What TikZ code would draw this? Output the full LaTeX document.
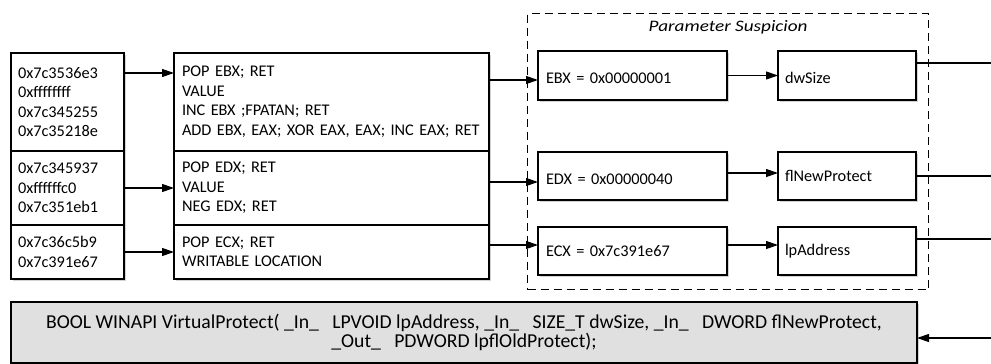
\documentclass[tikz,border=0pt]{standalone}
\usepackage{fontspec}
\setmainfont{Carlito}
\newfontfamily\widefont{Carlito}[FakeStretch=1.2]
\usepackage{tikz}
\usetikzlibrary{arrows.meta, positioning, calc, shadows}
\usepackage{xcolor}
\definecolor{protgray}{RGB}{224,224,224}

\begin{document}
\begin{tikzpicture}[x=1pt, y=-1pt,
    font=\fontsize{16.3}{19.5}\selectfont,
    box/.style={draw, fill=white, line width=1.3pt, outer sep=0pt, inner xsep=7pt,
        inner ysep=0pt, align=left, anchor=north west},
    low/.style={text height=20pt, text depth=3.5pt},
    shade/.style={drop shadow={shadow xshift=1.5pt, shadow yshift=-1.5pt, opacity=0.35}},
    apibox/.style={draw, fill=protgray, line width=2.6pt, outer sep=0pt, align=center,
        anchor=north west, font=\fontsize{19.7}{17}\selectfont},
    susframe/.style={draw, dash pattern=on 8pt off 5pt, line width=1.3pt, anchor=north west},
    arr/.style={-{Triangle[length=12pt,width=8pt]}, line width=1.2pt},
    wire/.style={line width=1.2pt}]
    \useasboundingbox (0,0) rectangle (991,364);
    \coordinate (rim) at (991,0);

    % Parameter frame
    \node[susframe, minimum width=401pt, minimum height=276pt] (susp) at (527,13) {};
    \node[font=\widefont\fontsize{16}{19.5}\selectfont\itshape] (susptitle) at ([yshift=-14pt]susp.north) {Parameter Suspicion};

    % Stack of addresses
    \node[box, shade, text width=99pt, minimum height=98pt] (addr1) at (11,53)
        {0x7c3536e3\\0xffffffff\\0x7c345255\\0x7c35218e};
    \node[box, shade, text width=99pt, minimum height=74pt, below=0pt of addr1] (addr2)
        {0x7c345937\\0xffffffc0\\0x7c351eb1};
    \node[box, shade, text width=99pt, minimum height=54pt, below=0pt of addr2] (addr3)
        {0x7c36c5b9\\0x7c391e67};

    % Gadgets
    \node[box, shade, inner xsep=8pt, text width=299pt, minimum height=98pt] (gadget1) at (174,53)
        {POP EBX; RET\\VALUE\\INC EBX ;FPATAN; RET\\ADD EBX, EAX; XOR EAX, EAX; INC EAX; RET};
    \node[box, shade, inner xsep=8pt, text width=299pt, minimum height=74pt, below=0pt of gadget1] (gadget2)
        {POP EDX; RET\\VALUE\\NEG EDX; RET};
    \node[box, shade, inner xsep=8pt, text width=299pt, minimum height=54pt, below=0pt of gadget2] (gadget3)
        {POP ECX; RET\\WRITABLE LOCATION};

    % Register values
    \node[box, shade, low, inner xsep=8pt, text width=173pt, minimum height=49pt] (ebx) at (538,51) {EBX = 0x00000001};
    \node[box, shade, low, inner xsep=8pt, text width=173pt, minimum height=48pt] (edx) at (538,152) {EDX = 0x00000040};
    \node[box, shade, inner xsep=8pt, text width=173pt, minimum height=48pt] (ecx) at (538,227) {ECX = 0x7c391e67};

    % Parameters
    \node[box, shade, low, text width=124pt, minimum height=49pt] (dwsize) at (778,51) {dwSize};
    \node[box, shade, text width=124pt, minimum height=48pt] (flnew) at (778,152) {flNewProtect};
    \node[box, shade, text width=124pt, minimum height=48pt] (lpaddr) at (778,227) {lpAddress};

    % API prototype
    \node[apibox, shade, minimum width=906pt, minimum height=61pt] (api) at (11,302)
        {BOOL WINAPI VirtualProtect( \_In\_\ \ \ LPVOID lpAddress, \_In\_\ \ \ SIZE\_T dwSize, \_In\_\ \ \ DWORD flNewProtect,\\
         \_Out\_\ \ \ PDWORD lpflOldProtect);};

    % Stack -> gadgets
    \draw[arr] ([yshift=29pt]addr1.east) -- ([yshift=29pt]gadget1.west);
    \draw[arr] (addr2.east) -- (gadget2.west);
    \draw[arr] (addr3.east) -- (gadget3.west);

    % Gadgets -> registers
    \draw[arr] ([yshift=22pt]gadget1.east) -- ([yshift=22pt]gadget1.east -| ebx.west);
    \draw[arr] ([yshift=6pt]gadget2.east) -- ([yshift=6pt]gadget2.east -| edx.west);
    \draw[arr] ([yshift=7pt]gadget3.east) -- ([yshift=7pt]gadget3.east -| ecx.west);

    % Registers -> parameters
    \draw[arr] (ebx.east) -- (dwsize.west);
    \draw[arr] ([yshift=3pt]edx.east) -- ([yshift=3pt]flnew.west);
    \draw[arr] ([yshift=6pt]ecx.east) -- ([yshift=6pt]lpaddr.west);

    % Parameters out to the call
    \draw[wire] ([yshift=12.5pt]dwsize.east) -- ([yshift=12.5pt]dwsize.east -| rim);
    \draw[wire] (flnew.east) -- (flnew.east -| rim);
    \draw[wire] ([yshift=12pt]lpaddr.east) -- ([yshift=12pt]lpaddr.east -| rim);
    \draw[arr] ([yshift=-5.5pt]api.east -| rim) -- ([yshift=-5.5pt]api.east);
\end{tikzpicture}
\end{document}
